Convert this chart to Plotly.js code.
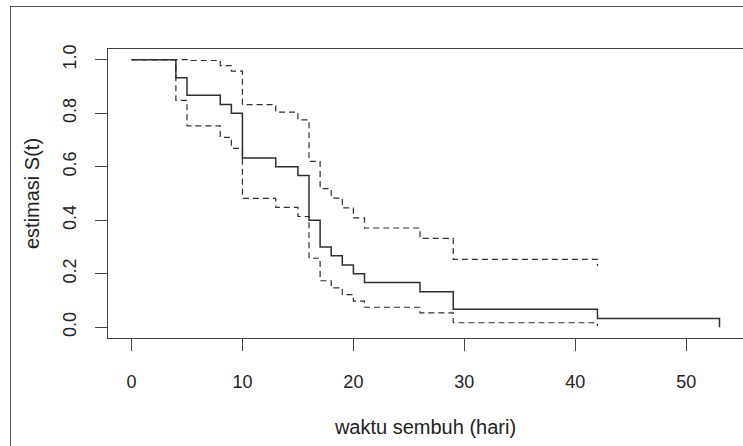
<!DOCTYPE html>
<html><head><meta charset="utf-8">
<script src="https://cdn.plot.ly/plotly-3.0.1.min.js"></script>
<style>
html,body{margin:0;padding:0;background:#fff;overflow:hidden}
#chart{width:743px;height:446px;position:absolute;left:0;top:0}
#frame{position:absolute;left:10px;top:6px;width:760px;height:460px;border-left:1.5px solid #555;border-top:1.5px solid #555;pointer-events:none}
</style></head><body>
<div id="chart"></div><div id="frame"></div>
<script>
// Kaplan-Meier estimate
const times = [0,4,5,8,9,10,13,15,16,17,18,19,20,21,26,29,42,53];
const survival = [1,0.933,0.867,0.833,0.8,0.633,0.6,0.567,0.4,0.3,0.267,0.233,0.2,0.167,0.133,0.067,0.033,0];
// 95% confidence band (dashed)
const ciTimes = [0,4,5,8,9,10,13,15,16,17,18,19,20,21,26,29,42];
const upperCI = [1,1,0.997,0.978,0.957,0.832,0.804,0.775,0.620,0.518,0.483,0.446,0.409,0.371,0.332,0.254,0.229];
const lowerCI = [1,0.848,0.753,0.710,0.669,0.482,0.448,0.414,0.258,0.174,0.147,0.122,0.098,0.075,0.054,0.017,0.005];
const xTicks = [0,10,20,30,40,50];
const yTicks = [0,0.2,0.4,0.6,0.8,1.0];
const yTickText = ['0.0','0.2','0.4','0.6','0.8','1.0'];

const lineColor = '#2e2e2e';
const traces = [
  {x: times, y: survival, mode: 'lines', line: {shape: 'hv', color: lineColor, width: 1.5}, hoverinfo: 'skip'},
  {x: ciTimes, y: upperCI, mode: 'lines', line: {shape: 'hv', color: lineColor, width: 1.2, dash: '6px,4px'}, hoverinfo: 'skip'},
  {x: ciTimes, y: lowerCI, mode: 'lines', line: {shape: 'hv', color: lineColor, width: 1.2, dash: '6px,4px'}, hoverinfo: 'skip'}
];
const fam = 'Liberation Sans, Arial, sans-serif';
const layout = {
  width: 743, height: 446,
  margin: {l: 108, r: 0, t: 49, b: 108},
  paper_bgcolor: '#fff', plot_bgcolor: '#fff',
  showlegend: false,
  font: {family: fam, color: '#222'},
  xaxis: {
    range: [-2.12, 55.12], tickvals: xTicks, ticktext: xTicks.map(String),
    showgrid: false, zeroline: false, showline: true, mirror: true,
    linecolor: '#444', linewidth: 1,
    ticks: 'outside', ticklen: 12, tickcolor: '#444', tickwidth: 1,
    ticklabelstandoff: 15,
    tickfont: {size: 18, family: fam, color: '#222'},
    title: {text: 'waktu sembuh (hari)', font: {size: 20, family: fam, color: '#222'}, standoff: 29}
  },
  yaxis: {
    range: [-0.04, 1.04], tickvals: yTicks, ticktext: yTickText,
    showgrid: false, zeroline: false, showline: true, mirror: true,
    linecolor: '#444', linewidth: 1,
    ticks: 'outside', ticklen: 12, tickcolor: '#444', tickwidth: 1,
    tickangle: -90,
    ticklabelstandoff: 12,
    tickfont: {size: 18, family: fam, color: '#222'},
    title: {text: 'estimasi S(t)', font: {size: 20, family: fam, color: '#222'}, standoff: 14}
  }
};
Plotly.newPlot('chart', traces, layout, {displayModeBar: false, staticPlot: true});
</script>
</body></html>
